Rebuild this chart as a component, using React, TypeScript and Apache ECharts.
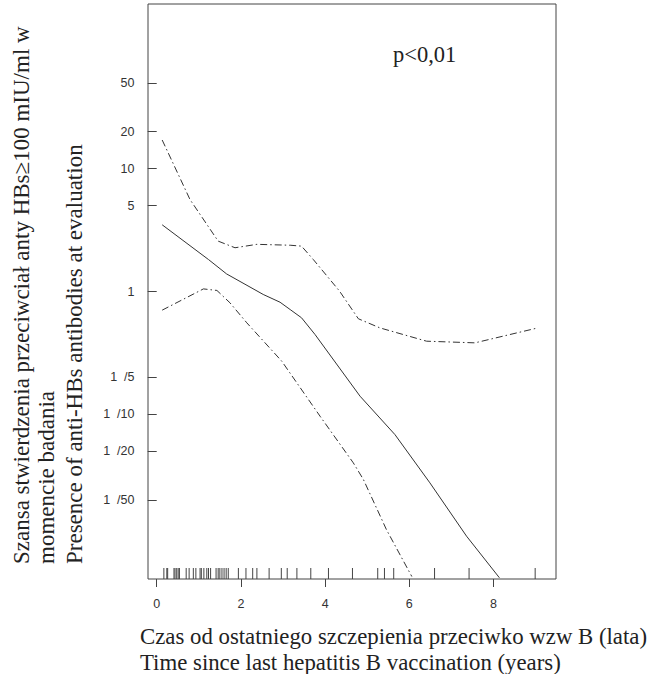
import React, { useEffect, useRef } from "react";
import * as echarts from "echarts";

// Spline fit (odds ratio) and 95% CI
const fitX = [0.13, 1.23, 1.66, 2.53, 2.93, 3.17, 3.44, 3.76, 4.83, 5.66, 6.49, 7.36, 8.14];
const fitY = [3.49, 1.82, 1.39, 0.946, 0.818, 0.713, 0.611, 0.447, 0.1406, 0.0684, 0.0277, 0.0102, 0.00468];

const upperX = [0.13, 0.79, 1.46, 1.86, 2.38, 3.17, 3.44, 3.72, 4.34, 4.79, 5.3, 6.41, 7.56, 8.63, 9.06];
const upperY = [17.1, 5.61, 2.57, 2.27, 2.42, 2.38, 2.34, 1.82, 1.01, 0.6, 0.506, 0.394, 0.382, 0.467, 0.506];

const lowerX = [0.13, 1.11, 1.43, 1.74, 2.14, 2.97, 3.88, 4.67, 4.91, 5.46, 6.06];
const lowerY = [0.705, 1.05, 1.02, 0.809, 0.556, 0.271, 0.0966, 0.0403, 0.0295, 0.01148, 0.00479];

// Rug of observed times (years)
const rugX = [
  0.17, 0.24, 0.26, 0.41, 0.435, 0.475, 0.51, 0.54, 0.7, 0.77, 0.87, 0.93, 1.03, 1.06, 1.12,
  1.19, 1.23, 1.28, 1.41, 1.46, 1.5, 1.55, 1.6, 1.65, 1.7, 1.94, 2.12, 2.28, 2.38, 2.67, 2.96,
  3.1, 3.33, 3.66, 4.08, 4.65, 5.25, 5.41, 5.63, 6.6, 7.42, 8.99,
];

const xTicks = [0, 2, 4, 6, 8];
const yTickValues = [50, 20, 10, 5, 1, 0.2, 0.1, 0.05, 0.02];
const yTickLabels = ["50", "20", "10", "5", "1", "1\u00A0\u00A0/5", "1\u00A0\u00A0/10", "1\u00A0\u00A0/20", "1\u00A0\u00A0/50"];

const yTitleLines = [
  "Szansa stwierdzenia przeciwciał anty HBs≥100 mIU/ml w",
  "momencie badania",
  "Presence of anti-HBs antibodies at evaluation",
];
const xTitleLines = [
  "Czas od ostatniego szczepienia przeciwko wzw B (lata)",
  "Time since last hepatitis B vaccination (years)",
];
const pText = "p<0,01";

const SERIF = '"Liberation Serif", "Times New Roman", serif';
const SANS = '"Liberation Sans", Arial, sans-serif';
const Y_MIN = Math.pow(10, -2.34);
const Y_MAX = Math.pow(10, 2.34);

function pairs(xs: number[], ys: number[]) {
  return xs.map((x, i) => [x, ys[i]]);
}

export default function App() {
  const ref = useRef<HTMLDivElement>(null);
  useEffect(() => {
    if (!ref.current) return;
    const chart = echarts.init(ref.current, null, { renderer: "svg" });
    const ciStyle = { color: "#333", width: 1, type: [7, 3, 1.5, 3] as any };
    const yTitleX = [21, 46.5, 74.5];
    const xTitleY = [636.4, 662.4];
    const option: any = {
      animation: false,
      grid: {
        left: 148,
        top: 4,
        right: 92,
        bottom: 95,
        show: true,
        borderColor: "#444",
        borderWidth: 1,
      },
      xAxis: {
        type: "value",
        min: -0.207,
        max: 9.485,
        splitLine: { show: false },
        axisLine: { show: false },
        axisTick: { show: true, length: 8, customValues: xTicks, lineStyle: { color: "#444" } },
        axisLabel: {
          customValues: xTicks,
          margin: 18,
          fontFamily: SANS,
          fontSize: 12.5,
          color: "#333",
        },
      },
      yAxis: {
        type: "log",
        logBase: 10,
        min: Y_MIN,
        max: Y_MAX,
        splitLine: { show: false },
        axisLine: { show: false },
        axisTick: { show: true, length: 9, customValues: yTickValues, lineStyle: { color: "#444" } },
        axisLabel: {
          customValues: yTickValues,
          margin: 13.5,
          fontFamily: SANS,
          fontSize: 12.5,
          color: "#333",
          formatter: (v: number) => {
            let best = 0;
            let bd = Infinity;
            yTickValues.forEach((t, i) => {
              const d = Math.abs(Math.log(v) - Math.log(t));
              if (d < bd) {
                bd = d;
                best = i;
              }
            });
            return yTickLabels[best];
          },
        },
      },
      series: [
        {
          type: "line",
          data: pairs(fitX, fitY),
          showSymbol: false,
          lineStyle: { color: "#333", width: 1 },
        },
        {
          type: "line",
          data: pairs(upperX, upperY),
          showSymbol: false,
          lineStyle: ciStyle,
        },
        {
          type: "line",
          data: pairs(lowerX, lowerY),
          showSymbol: false,
          lineStyle: ciStyle,
        },
        {
          type: "custom",
          data: rugX.map((x) => [x, Y_MIN]),
          renderItem: (params: any, api: any) => {
            const p = api.coord([api.value(0), Y_MIN]);
            return {
              type: "line",
              shape: { x1: p[0], y1: p[1], x2: p[0], y2: p[1] - 11 },
              style: { stroke: "#444", lineWidth: 1 },
            };
          },
        },
      ],
      graphic: [
        {
          type: "text",
          left: 393,
          top: 43,
          style: { text: pText, fontFamily: SERIF, fontSize: 22.5, fill: "#222" },
        },
        ...yTitleLines.map((t, i) => ({
          type: "text",
          x: yTitleX[i],
          y: 564,
          rotation: Math.PI / 2,
          style: {
            text: t,
            fontFamily: SERIF,
            fontSize: 23,
            fill: "#222",
            textAlign: "left",
            textVerticalAlign: "middle",
          },
        })),
        ...xTitleLines.map((t, i) => ({
          type: "text",
          x: 140,
          y: xTitleY[i],
          style: {
            text: t,
            fontFamily: SERIF,
            fontSize: 22.8,
            fill: "#222",
            textAlign: "left",
            textVerticalAlign: "middle",
          },
        })),
      ],
    };
    chart.setOption(option);
    return () => chart.dispose();
  }, []);
  return (
    <div
      ref={ref}
      style={{ position: "fixed", left: 0, top: 0, width: 648, height: 674, background: "#fff" }}
    />
  );
}
